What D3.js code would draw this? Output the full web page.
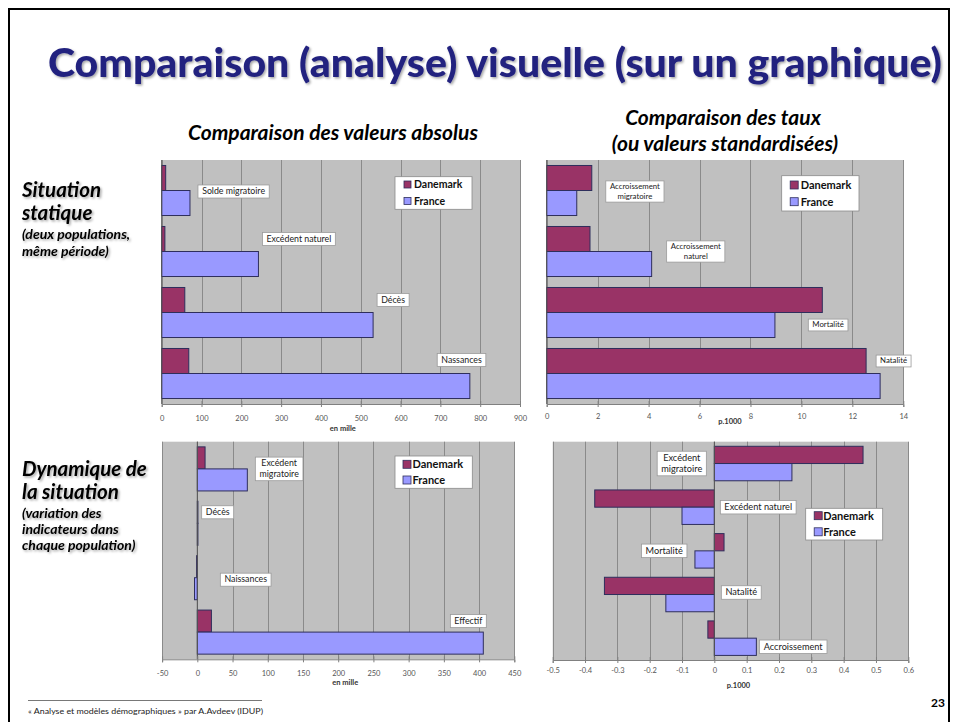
<!DOCTYPE html>
<html><head><meta charset="utf-8">
<script src="https://cdn.jsdelivr.net/npm/d3@7"></script>
<style>body{margin:0;background:#fff;} svg{display:block;}</style>
</head><body><svg id="c" width="956" height="722"></svg>
<script>
// ---------------- DATA ----------------
const seriesNames = ["Danemark", "France"];

// Chart 1 : valeurs absolues (en mille)
const absCategories = ["Solde migratoire", "Excédent naturel", "Décès", "Nassances"];
const absDanemark = [10, 8, 58, 68];
const absFrance = [71, 243, 531, 774];
const absTicks = [0, 100, 200, 300, 400, 500, 600, 700, 800, 900];

// Chart 2 : taux (p.1000)
const rateCategories = ["Accroissement migratoire", "Accroissement naturel", "Mortalité", "Natalité"];
const rateDanemark = [1.77, 1.70, 10.82, 12.54];
const rateFrance = [1.18, 4.12, 8.96, 13.09];
const rateTicks = [0, 2, 4, 6, 8, 10, 12, 14];

// Chart 3 : variation des valeurs absolues (en mille)
const dynAbsCategories = ["Excédent migratoire", "Décès", "Naissances", "Effectif"];
const dynAbsDanemark = [11, 0.5, -1, 20];
const dynAbsFrance = [71, 0.5, -4, 406];
const dynAbsTicks = [-50, 0, 50, 100, 150, 200, 250, 300, 350, 400, 450];

// Chart 4 : variation des taux (p.1000)
const dynRateCategories = ["Excédent migratoire", "Excédent naturel", "Mortalité", "Natalité", "Accroissement"];
const dynRateDanemark = [0.46, -0.37, 0.03, -0.34, -0.02];
const dynRateFrance = [0.24, -0.10, -0.06, -0.15, 0.13];
const dynRateTicks = [-0.5, -0.4, -0.3, -0.2, -0.1, 0, 0.1, 0.2, 0.3, 0.4, 0.5, 0.6];

// ---------------- STYLE ----------------
const FONT = "Lato, 'Open Sans', sans-serif";
const COL_DK = "#993366", COL_FR = "#9999FF", COL_EDGE = "#2e2e5c";
const svg = d3.select("#c");

// slide frame
svg.append("rect").attr("x", 9).attr("y", 9).attr("width", 940).attr("height", 760)
  .attr("fill", "none").attr("stroke", "#000").attr("stroke-width", 2);

const defs = svg.append("defs");
const f = defs.append("filter").attr("id", "sh").attr("x", "-5%").attr("y", "-20%").attr("width", "110%").attr("height", "140%");
f.append("feDropShadow").attr("dx", 1.5).attr("dy", 1.5).attr("stdDeviation", 1).attr("flood-color", "#000").attr("flood-opacity", 0.35);

// Title
svg.append("text").attr("x", 48).attr("y", 77)
  .attr("font-family", FONT).attr("font-weight", 900).attr("font-size", 39)
  .attr("fill", "#22227f").attr("textLength", 894).attr("lengthAdjust", "spacingAndGlyphs")
  .attr("filter", "url(#sh)")
  .text("Comparaison (analyse) visuelle (sur un graphique)");

// subtitles
function sub(x, y, t) {
  svg.append("text").attr("x", x).attr("y", y).attr("text-anchor", "middle")
    .attr("font-family", FONT).attr("font-weight", 700).attr("font-style", "italic")
    .attr("font-size", 21).attr("fill", "#000").text(t);
}
sub(333, 140, "Comparaison des valeurs absolus");
sub(723, 125, "Comparaison des taux");
sub(725, 151, "(ou valeurs standardisées)");

// left side texts
function side(lines) {
  lines.forEach(l => {
    svg.append("text").attr("x", 22).attr("y", l[0])
      .attr("font-family", FONT).attr("font-weight", 700).attr("font-style", "italic")
      .attr("font-size", l[1]).attr("fill", "#000").attr("filter", "url(#sh)").text(l[2]);
  });
}
side([[197, 20.5, "Situation"], [220, 20.5, "statique"], [239, 14, "(deux populations,"], [256, 14, "même période)"]]);
side([[476, 20.5, "Dynamique de"], [499, 20.5, "la situation"], [518, 14, "(variation des"], [534, 14, "indicateurs dans"], [550, 14, "chaque population)"]]);

// footer
svg.append("line").attr("x1", 28).attr("x2", 262).attr("y1", 700.5).attr("y2", 700.5).attr("stroke", "#555").attr("stroke-width", 0.8);
svg.append("text").attr("x", 28).attr("y", 714).attr("font-family", FONT).attr("font-size", 8)
  .attr("fill", "#222").attr("textLength", 235).attr("lengthAdjust", "spacingAndGlyphs")
  .text("« Analyse et modèles démographiques » par A.Avdeev (IDUP)");
svg.append("text").attr("x", 931).attr("y", 707).attr("font-family", FONT).attr("font-weight", 700)
  .attr("font-size", 12).attr("fill", "#000").text("23");

// ---------------- CHART ----------------
function drawChart(c) {
  const g = svg.append("g");
  const p = c.plot;
  const x = d3.scaleLinear().domain(c.domain).range([p.x0, p.x1]);
  const y = d3.scaleBand().domain(c.cats).range([p.y0, p.y1]).paddingInner(c.pad).paddingOuter(c.pad / 2);
  const half = y.bandwidth() / 2;

  g.append("rect").attr("x", p.x0).attr("y", p.y0).attr("width", p.x1 - p.x0).attr("height", p.y1 - p.y0)
    .attr("fill", "#c0c0c0");
  g.selectAll(".grid").data(c.ticks).join("line").attr("class", "grid")
    .attr("x1", d => Math.round(x(d)) + 0.5).attr("x2", d => Math.round(x(d)) + 0.5)
    .attr("y1", p.y0).attr("y2", p.y1).attr("stroke", "#8a8a8a").attr("stroke-width", 1);

  const rows = c.cats.map((cat, i) => ({ cat, dk: c.dk[i], fr: c.fr[i] }));

  g.selectAll(".dk").data(rows).join("rect").attr("class", "dk")
    .attr("x", d => x(Math.min(0, d.dk))).attr("y", d => y(d.cat))
    .attr("width", d => Math.max(0.6, Math.abs(x(d.dk) - x(0)))).attr("height", half)
    .attr("fill", COL_DK).attr("stroke", COL_EDGE).attr("stroke-width", 1);
  g.selectAll(".fr").data(rows).join("rect").attr("class", "fr")
    .attr("x", d => x(Math.min(0, d.fr))).attr("y", d => y(d.cat) + half)
    .attr("width", d => Math.max(0.6, Math.abs(x(d.fr) - x(0)))).attr("height", half)
    .attr("fill", COL_FR).attr("stroke", COL_EDGE).attr("stroke-width", 1);

  g.append("line").attr("x1", x(0)).attr("x2", x(0)).attr("y1", p.y0).attr("y2", p.y1)
    .attr("stroke", "#555").attr("stroke-width", 1);

  const axis = d3.axisBottom(x).tickValues(c.ticks).tickSizeOuter(0).tickSize(3).tickFormat(c.fmt);
  const ag = g.append("g").attr("transform", `translate(0,${p.y1})`).call(axis);
  ag.select(".domain").attr("stroke", "#808080");
  ag.selectAll(".tick line").attr("stroke", "#808080").attr("y1", -3).attr("y2", 3);
  ag.selectAll(".tick text").attr("font-family", FONT).attr("font-size", 7.5).attr("fill", "#555")
    .attr("y", c.tickY).attr("dy", 0);

  g.append("text").attr("x", (p.x0 + p.x1) / 2 + c.titleDx).attr("y", p.y1 + c.titleY).attr("text-anchor", "middle")
    .attr("font-family", FONT).attr("font-weight", 700).attr("font-size", 7.5).attr("fill", "#333").text(c.axisTitle);

  rows.forEach((d, i) => {
    const L = c.labels[i];
    const vals = [d.dk, d.fr, 0];
    const ax = L.anchor === "end" ? x(d3.max(vals)) : L.anchor === "start" ? x(d3.min(vals)) : x(0);
    let lines = [d.cat];
    if (L.wrap) { const s = d.cat.indexOf(" "); lines = [d.cat.slice(0, s), d.cat.slice(s + 1)]; }
    const base = L.row === "dk" ? y(d.cat) + half / 2 : L.row === "fr" ? y(d.cat) + 1.5 * half : y(d.cat) + half;
    const yc = base + (L.dy || 0);
    const lh = c.labelSize * 1.2;
    const lg = g.append("g");
    const rect = lg.append("rect");
    const t = lg.append("text").attr("font-family", FONT).attr("font-size", c.labelSize).attr("fill", "#222")
      .attr("text-anchor", "middle");
    lines.forEach((ln, k) => t.append("tspan").attr("x", 0).attr("y", k * lh).text(ln));
    const w = t.node().getBBox().width;
    const bw = w + 8, bh = lines.length * lh + 2.5;
    const left = L.side === "r" ? ax + L.dx : ax + L.dx - bw;
    rect.attr("x", left).attr("y", yc - bh / 2).attr("width", bw).attr("height", bh)
      .attr("fill", "#fff").attr("stroke", "#9a9a9a").attr("stroke-width", 0.8);
    t.attr("transform", `translate(${left + bw / 2},${yc - bh / 2 + 1.2 + c.labelSize * 0.92})`);
  });

  const lgd = c.legend;
  const L = g.append("g");
  L.append("rect").attr("x", lgd.x).attr("y", lgd.y).attr("width", lgd.w).attr("height", lgd.h)
    .attr("fill", "#fff").attr("stroke", "#8a8a8a").attr("stroke-width", 0.8);
  seriesNames.forEach((s, k) => {
    const cy = lgd.y + lgd.rows[k];
    L.append("rect").attr("x", lgd.x + lgd.sx).attr("y", cy - lgd.s / 2).attr("width", lgd.s).attr("height", lgd.s)
      .attr("fill", k === 0 ? COL_DK : COL_FR).attr("stroke", COL_EDGE).attr("stroke-width", 0.8);
    L.append("text").attr("x", lgd.x + lgd.tx).attr("y", cy + lgd.font * 0.36)
      .attr("font-family", FONT).attr("font-weight", 700).attr("font-size", lgd.font).attr("fill", "#111").text(s);
  });
}

const fmt1 = d => String(+d.toFixed(1));

drawChart({
  cats: absCategories, dk: absDanemark, fr: absFrance, ticks: absTicks, domain: [0, 900], fmt: d => d,
  plot: { x0: 161.7, x1: 520, y0: 160, y1: 404 }, pad: 0.18,
  tickY: 17, titleY: 27, titleDx: 2, axisTitle: "en mille", labelSize: 8.8,
  labels: [
    { anchor: "end", side: "r", dx: 8, row: "mid", dy: 1 },
    { anchor: "end", side: "r", dx: 4, row: "dk" },
    { anchor: "end", side: "r", dx: 4, row: "dk" },
    { anchor: "end", side: "l", dx: 16, row: "dk", dy: -1 }
  ],
  legend: { x: 395, y: 176.7, w: 77, h: 32.6, sx: 9, tx: 19, s: 7, rows: [7.8, 24.3], font: 10.5 }
});

drawChart({
  cats: rateCategories, dk: rateDanemark, fr: rateFrance, ticks: rateTicks, domain: [0, 14], fmt: d => d,
  plot: { x0: 546.7, x1: 903.3, y0: 160, y1: 404 }, pad: 0.18,
  tickY: 15, titleY: 20, titleDx: 5, axisTitle: "p.1000", labelSize: 7.8,
  labels: [
    { anchor: "end", side: "r", dx: 14, row: "mid", dy: 1, wrap: true },
    { anchor: "end", side: "r", dx: 15, row: "mid", wrap: true },
    { anchor: "end", side: "r", dx: -14, row: "fr" },
    { anchor: "end", side: "r", dx: -4, row: "dk" }
  ],
  legend: { x: 781.7, y: 175.7, w: 77.3, h: 35.3, sx: 8.5, tx: 19, s: 8, rows: [9.3, 26], font: 11 }
});

drawChart({
  cats: dynAbsCategories, dk: dynAbsDanemark, fr: dynAbsFrance, ticks: dynAbsTicks, domain: [-50, 450], fmt: d => d,
  plot: { x0: 162.1, x1: 514.3, y0: 441.7, y1: 659.3 }, pad: 0.19,
  tickY: 17, titleY: 26, titleDx: 7, axisTitle: "en mille", labelSize: 8.8,
  labels: [
    { anchor: "end", side: "r", dx: 8, row: "mid", wrap: true },
    { anchor: "end", side: "r", dx: 4, row: "dk" },
    { anchor: "end", side: "r", dx: 23, row: "mid", dy: 2 },
    { anchor: "end", side: "l", dx: 3, row: "dk" }
  ],
  legend: { x: 395, y: 456, w: 77.3, h: 32.3, sx: 8, tx: 17.5, s: 8, rows: [8.3, 24], font: 11 }
});

drawChart({
  cats: dynRateCategories, dk: dynRateDanemark, fr: dynRateFrance, ticks: dynRateTicks, domain: [-0.5, 0.6], fmt: fmt1,
  plot: { x0: 552.7, x1: 908.3, y0: 441.7, y1: 660 }, pad: 0.21,
  tickY: 13, titleY: 28, titleDx: 8, axisTitle: "p.1000", labelSize: 9.2,
  labels: [
    { anchor: "zero", side: "l", dx: -8, row: "mid", wrap: true },
    { anchor: "zero", side: "r", dx: 6, row: "mid" },
    { anchor: "start", side: "l", dx: -8, row: "mid" },
    { anchor: "zero", side: "r", dx: 7, row: "mid", dy: -2 },
    { anchor: "end", side: "r", dx: 3, row: "fr" }
  ],
  legend: { x: 805.7, y: 508.3, w: 77, h: 31.7, sx: 8.5, tx: 17.5, s: 8, rows: [7.4, 23.5], font: 11 }
});
</script>
</body></html>
